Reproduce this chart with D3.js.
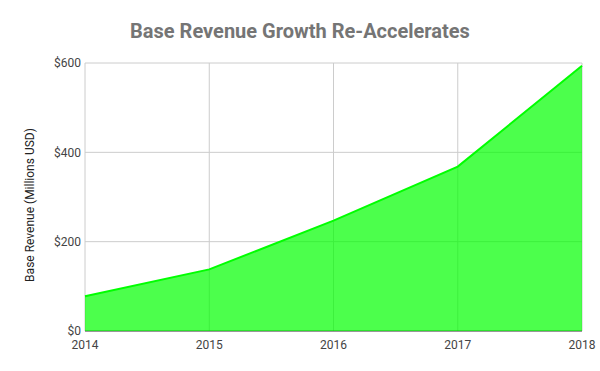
<!DOCTYPE html>
<html>
<head>
<meta charset="utf-8">
<script src="https://cdn.jsdelivr.net/npm/d3@7"></script>
<style>
  body { margin: 0; background: #fff; }
  text { font-family: Roboto, sans-serif; }
</style>
</head>
<body>
<svg class="chart"></svg>
<script>
var years = ["2014", "2015", "2016", "2017", "2018"];
var revenue = [78, 138, 247, 368, 594];
var yTicks = [0, 200, 400, 600];

var W = 600, H = 371;
var margin = {top: 63, right: 18, bottom: 40, left: 85},
    width = W - margin.left - margin.right,
    height = H - margin.top - margin.bottom;

var data = years.map(function(y, i) { return {year: y, value: revenue[i]}; });

var x = d3.scalePoint()
    .domain(years)
    .range([0, width]);

var y = d3.scaleLinear()
    .domain([0, 600])
    .range([height, 0]);

var svg = d3.select(".chart")
    .attr("width", W)
    .attr("height", H);

svg.append("text")
    .attr("x", W / 2)
    .attr("y", 38)
    .attr("text-anchor", "middle")
    .style("font-size", "20px")
    .style("font-weight", "bold")
    .style("fill", "#757575")
    .text("Base Revenue Growth Re-Accelerates");

var chart = svg.append("g")
    .attr("transform", "translate(" + margin.left + "," + margin.top + ")");

// grid
chart.selectAll(".hgrid")
    .data(yTicks.filter(function(t) { return t > 0; }))
  .enter().append("line")
    .attr("x1", 0).attr("x2", width)
    .attr("y1", function(d) { return y(d); })
    .attr("y2", function(d) { return y(d); })
    .attr("stroke", "#cccccc");

chart.selectAll(".vgrid")
    .data(years)
  .enter().append("line")
    .attr("x1", function(d) { return x(d); })
    .attr("x2", function(d) { return x(d); })
    .attr("y1", 0).attr("y2", height)
    .attr("stroke", "#cccccc");

// baseline
chart.append("line")
    .attr("x1", 0).attr("x2", width)
    .attr("y1", y(0)).attr("y2", y(0))
    .attr("stroke", "#333333");

var area = d3.area()
    .x(function(d) { return x(d.year); })
    .y0(y(0))
    .y1(function(d) { return y(d.value); });

var line = d3.line()
    .x(function(d) { return x(d.year); })
    .y(function(d) { return y(d.value); });

chart.append("path")
    .datum(data)
    .attr("d", area)
    .attr("fill", "#00ff00")
    .attr("fill-opacity", 0.7);

chart.append("path")
    .datum(data)
    .attr("d", line)
    .attr("fill", "none")
    .attr("stroke", "#00ff00")
    .attr("stroke-width", 2);

// y axis labels
chart.selectAll(".ylab")
    .data(yTicks)
  .enter().append("text")
    .attr("x", -4)
    .attr("y", function(d) { return y(d); })
    .attr("dy", "0.35em")
    .attr("text-anchor", "end")
    .style("font-size", "12px")
    .style("fill", "#444")
    .text(function(d) { return "$" + d; });

// x axis labels
chart.selectAll(".xlab")
    .data(years)
  .enter().append("text")
    .attr("x", function(d) { return x(d); })
    .attr("y", height + 18)
    .attr("text-anchor", "middle")
    .style("font-size", "12px")
    .style("fill", "#444")
    .text(function(d) { return d; });

chart.append("text")
    .attr("transform", "rotate(-90)")
    .attr("x", -142)
    .attr("y", -51)
    .attr("text-anchor", "middle")
    .style("font-size", "12px")
    .style("fill", "#222")
    .text("Base Revenue (Millions USD)");
</script>
</body>
</html>
